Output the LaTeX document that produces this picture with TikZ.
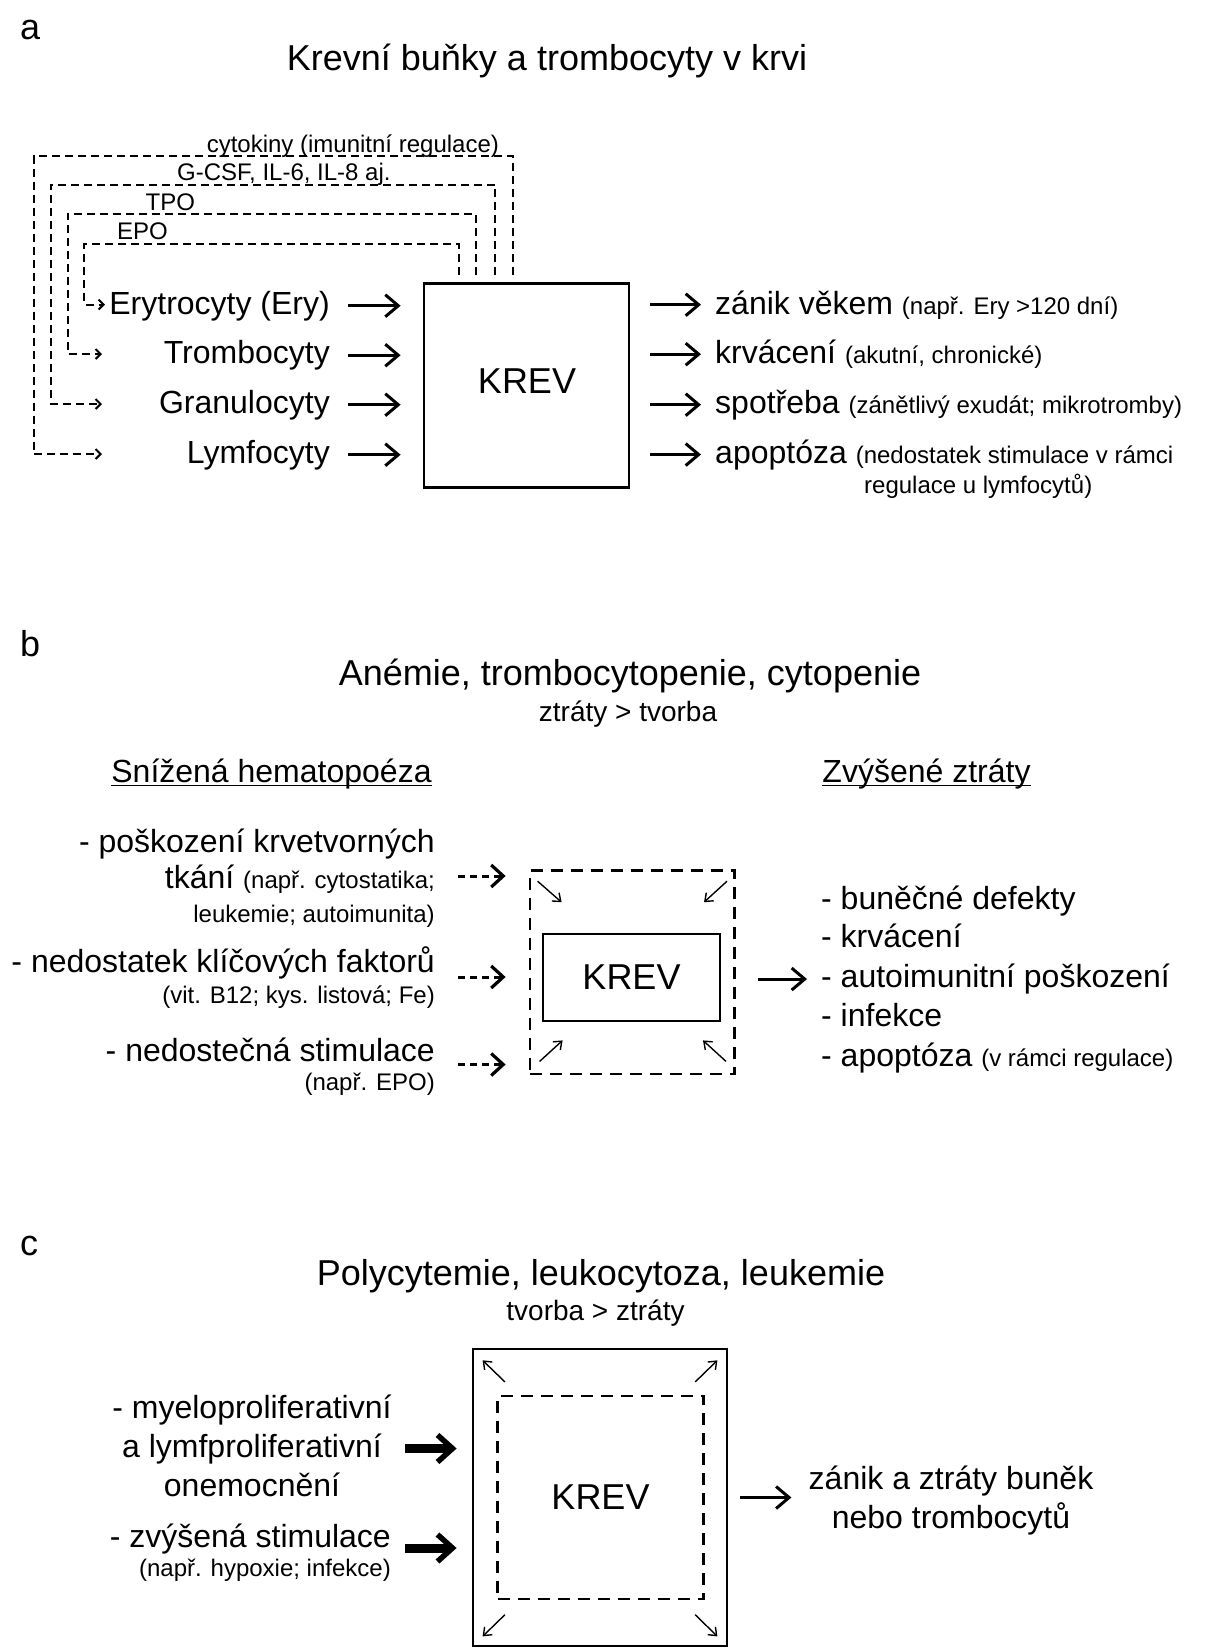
\documentclass[tikz,border=0pt]{standalone}
\usepackage{fontspec}
\setmainfont{Liberation Sans}
\usetikzlibrary{arrows.meta}
\newcommand{\myfs}[1]{\fontsize{#1}{#1}\selectfont}
\begin{document}
\begin{tikzpicture}[x=1pt,y=-1pt,
  txt/.style={inner sep=0pt, font=\myfs{32}},
  sm/.style={inner sep=0pt, font=\myfs{24}},
  ttl/.style={inner sep=0pt, font=\myfs{36}},
  sub/.style={inner sep=0pt, font=\myfs{28}},
  arr/.style={line width=3pt, -{Straight Barb[length=13pt,width=22pt]}},
  fb/.style={line width=2pt, dash pattern=on 8pt off 5pt},
  fbarr/.style={fb, -{Straight Barb[length=5pt,width=10pt]}},
  darr/.style={line width=3pt, dash pattern=on 7pt off 5pt, -{Straight Barb[length=12pt,width=22pt,line width=3.2pt]}},
  carr/.style={line width=1.4pt, -{Straight Barb[length=7pt,width=11pt]}},
  tarr/.style={line width=9pt, -{Straight Barb[length=15pt,width=27pt,line width=5.5pt]}},
  boxs/.style={draw, line width=2.8pt, inner sep=0pt},
  boxd/.style={draw, line width=2.8pt, inner sep=0pt, dash pattern=on 12pt off 8pt},
]
\useasboundingbox (0,0) rectangle (1210,1652);

% ---------------- panel a ----------------
\node[ttl, anchor=base west] (la) at (20,39) {a};
\node[ttl, anchor=base] (ta) at (547,70) {Krevní buňky a trombocyty v krvi};

\node[boxs, minimum width=205pt, minimum height=204pt] (krevA) at (526.5,385.8) {};
\node[ttl] (krevAt) at (527,381.5) {KREV};

\node[txt, anchor=base east] (ery) at (330,314) {Erytrocyty (Ery)};
\node[txt, anchor=base east] (trom) at (330,363.5) {Trombocyty};
\node[txt, anchor=base east] (gran) at (330,413) {Granulocyty};
\node[txt, anchor=base east] (lymf) at (330,463) {Lymfocyty};

\foreach \n in {ery,trom,gran,lymf}
  \draw[arr, shorten <=18pt, shorten >=22pt] (\n.east) -- (\n.east -| krevA.west);

\node[txt, anchor=base west] (o1) at (715,314) {zánik věkem {\myfs{24}(např. Ery >120 dní)}};
\node[txt, anchor=base west] (o2) at (715,363.5) {krvácení {\myfs{24}(akutní, chronické)}};
\node[txt, anchor=base west] (o3) at (715,413) {spotřeba {\myfs{24}(zánětlivý exudát; mikrotromby)}};
\node[txt, anchor=base west] (o4) at (715,463) {apoptóza {\myfs{24}(nedostatek stimulace v rámci}};
\node[sm, anchor=base west] (o5) at (864,493) {regulace u lymfocytů)};

\foreach \n in {o1,o2,o3,o4}
  \draw[arr, shorten <=20pt, shorten >=14pt] (krevA.east |- \n.west) -- (\n.west);

% feedback loops
\coordinate (c1s) at (513,275);   \coordinate (c1e) at (102,454);
\coordinate (c2s) at (495.4,275); \coordinate (c2e) at (102,404);
\coordinate (c3s) at (476.4,275); \coordinate (c3e) at (102,354);
\coordinate (c4s) at (458.5,275); \coordinate (c4e) at (105,304.5);

\draw[fbarr] (c1s) -- (c1s |- 0,156) -| (33.7,454) -- (c1e);
\draw[fbarr] (c2s) -- (c2s |- 0,184.5) -| (50.6,404) -- (c2e);
\draw[fbarr] (c3s) -- (c3s |- 0,214) -| (67.5,354) -- (c3e);
\draw[fbarr] (c4s) -- (c4s |- 0,243.5) -| (84.3,304.5) -- (c4e);

\node[sm, anchor=base west] (k1) at (206.6,152) {cytokiny (imunitní regulace)};
\node[sm, anchor=base west] (k2) at (177,180.5) {G-CSF, IL-6, IL-8 aj.};
\node[sm, anchor=base west] (k3) at (145.5,210) {TPO};
\node[sm, anchor=base west] (k4) at (117,239.5) {EPO};

% ---------------- panel b ----------------
\node[ttl, anchor=base west] (lb) at (20,656) {b};
\node[ttl, anchor=base] (tb) at (630,685) {Anémie, trombocytopenie, cytopenie};
\node[sub, anchor=base] (sb) at (628,721) {ztráty > tvorba};

\node[txt, anchor=base] (hl) at (271.5,782) {Snížená hematopoéza};
\draw[line width=1.6pt] ([yshift=-3.5pt]hl.base west) -- ([yshift=-3.5pt]hl.base east);
\node[txt, anchor=base] (hr) at (926.5,782) {Zvýšené ztráty};
\draw[line width=1.6pt] ([yshift=-3.5pt]hr.base west) -- ([yshift=-3.5pt]hr.base east);

\node[boxd, minimum width=204.6pt, minimum height=203.4pt] (krevBo) at (632.3,972.3) {};
\node[boxs, minimum width=177pt, minimum height=87pt, font=\myfs{36}] (krevB) at (631.5,977.5) {KREV};

\draw[carr] ([shift={(9,12)}]krevBo.north west) -- ([shift={(33,33)}]krevBo.north west);
\draw[carr] ([shift={(-9,12)}]krevBo.north east) -- ([shift={(-32,33)}]krevBo.north east);
\draw[carr] ([shift={(11,-14)}]krevBo.south west) -- ([shift={(34,-35)}]krevBo.south west);
\draw[carr] ([shift={(-10,-14)}]krevBo.south east) -- ([shift={(-33,-35)}]krevBo.south east);

\node[txt, anchor=base east] (l1) at (435,852.5) {- poškození krvetvorných};
\node[txt, anchor=base east] (l2) at (435,888.5) {tkání {\myfs{24}(např. cytostatika;}};
\node[sm, anchor=base east] (l3) at (435,922) {leukemie; autoimunita)};
\node[txt, anchor=base east] (l4) at (435,972.5) {- nedostatek klíčových faktorů};
\node[sm, anchor=base east] (l5) at (435,1003) {(vit. B12; kys. listová; Fe)};
\node[txt, anchor=base east] (l6) at (435,1061.5) {- nedostečná stimulace};
\node[sm, anchor=base east] (l7) at (435,1090.5) {(např. EPO)};

\coordinate (db1) at (458,876);
\coordinate (db2) at (458,977);
\coordinate (db3) at (458,1064.5);
\foreach \c in {db1,db2,db3}
  \draw[darr, shorten >=23pt] (\c) -- (\c -| krevBo.west);

\node[txt, anchor=base west] (r1) at (821,909.5) {- buněčné defekty};
\node[txt, anchor=base west] (r2) at (821,947.5) {- krvácení};
\node[txt, anchor=base west] (r3) at (821,987.5) {- autoimunitní poškození};
\node[txt, anchor=base west] (r4) at (821,1026.5) {- infekce};
\node[txt, anchor=base west] (r5) at (821,1066.5) {- apoptóza {\myfs{24}(v rámci regulace)}};

\draw[arr, shorten <=21.5pt, shorten >=14pt] (krevBo.east |- r3.west) -- (r3.west);

% ---------------- panel c ----------------
\node[ttl, anchor=base west] (lc) at (20,1255) {c};
\node[ttl, anchor=base] (tc) at (601,1285) {Polycytemie, leukocytoza, leukemie};
\node[sub, anchor=base] (sc) at (595.5,1320) {tvorba > ztráty};

\node[boxs, minimum width=254pt, minimum height=297pt] (krevCo) at (600,1497.5) {};
\node[boxd, minimum width=206pt, minimum height=203pt, font=\myfs{36}] (krevC) at (600.5,1497.5) {KREV};

\draw[carr] ([shift={(33.3,34.3)}]krevCo.north west) -- ([shift={(11,12.7)}]krevCo.north west);
\draw[carr] ([shift={(-33.2,34.3)}]krevCo.north east) -- ([shift={(-11,12.7)}]krevCo.north east);
\draw[carr] ([shift={(33.3,-32.7)}]krevCo.south west) -- ([shift={(11,-11)}]krevCo.south west);
\draw[carr] ([shift={(-33.2,-32.7)}]krevCo.south east) -- ([shift={(-11,-11)}]krevCo.south east);

\node[txt, anchor=base] (m1) at (252,1418.5) {- myeloproliferativní};
\node[txt, anchor=base] (m2) at (252,1457.5) {a lymfproliferativní};
\node[txt, anchor=base] (m3) at (252,1496.5) {onemocnění};
\node[txt, anchor=base east] (m4) at (391,1547.5) {- zvýšená stimulace};
\node[sm, anchor=base east] (m5) at (391,1576) {(např. hypoxie; infekce)};

\coordinate (t1) at (405,1448.5);
\coordinate (t2) at (405,1548);
\foreach \c in {t1,t2}
  \draw[tarr, shorten >=15pt] (\c) -- (\c -| krevCo.west);

\node[txt, anchor=base] (z1) at (951,1489.5) {zánik a ztráty buněk};
\node[txt, anchor=base] (z2) at (951,1528.5) {nebo trombocytů};
\draw[arr, shorten <=12pt] (krevCo.east) -- ++(63,0);

\end{tikzpicture}
\end{document}
